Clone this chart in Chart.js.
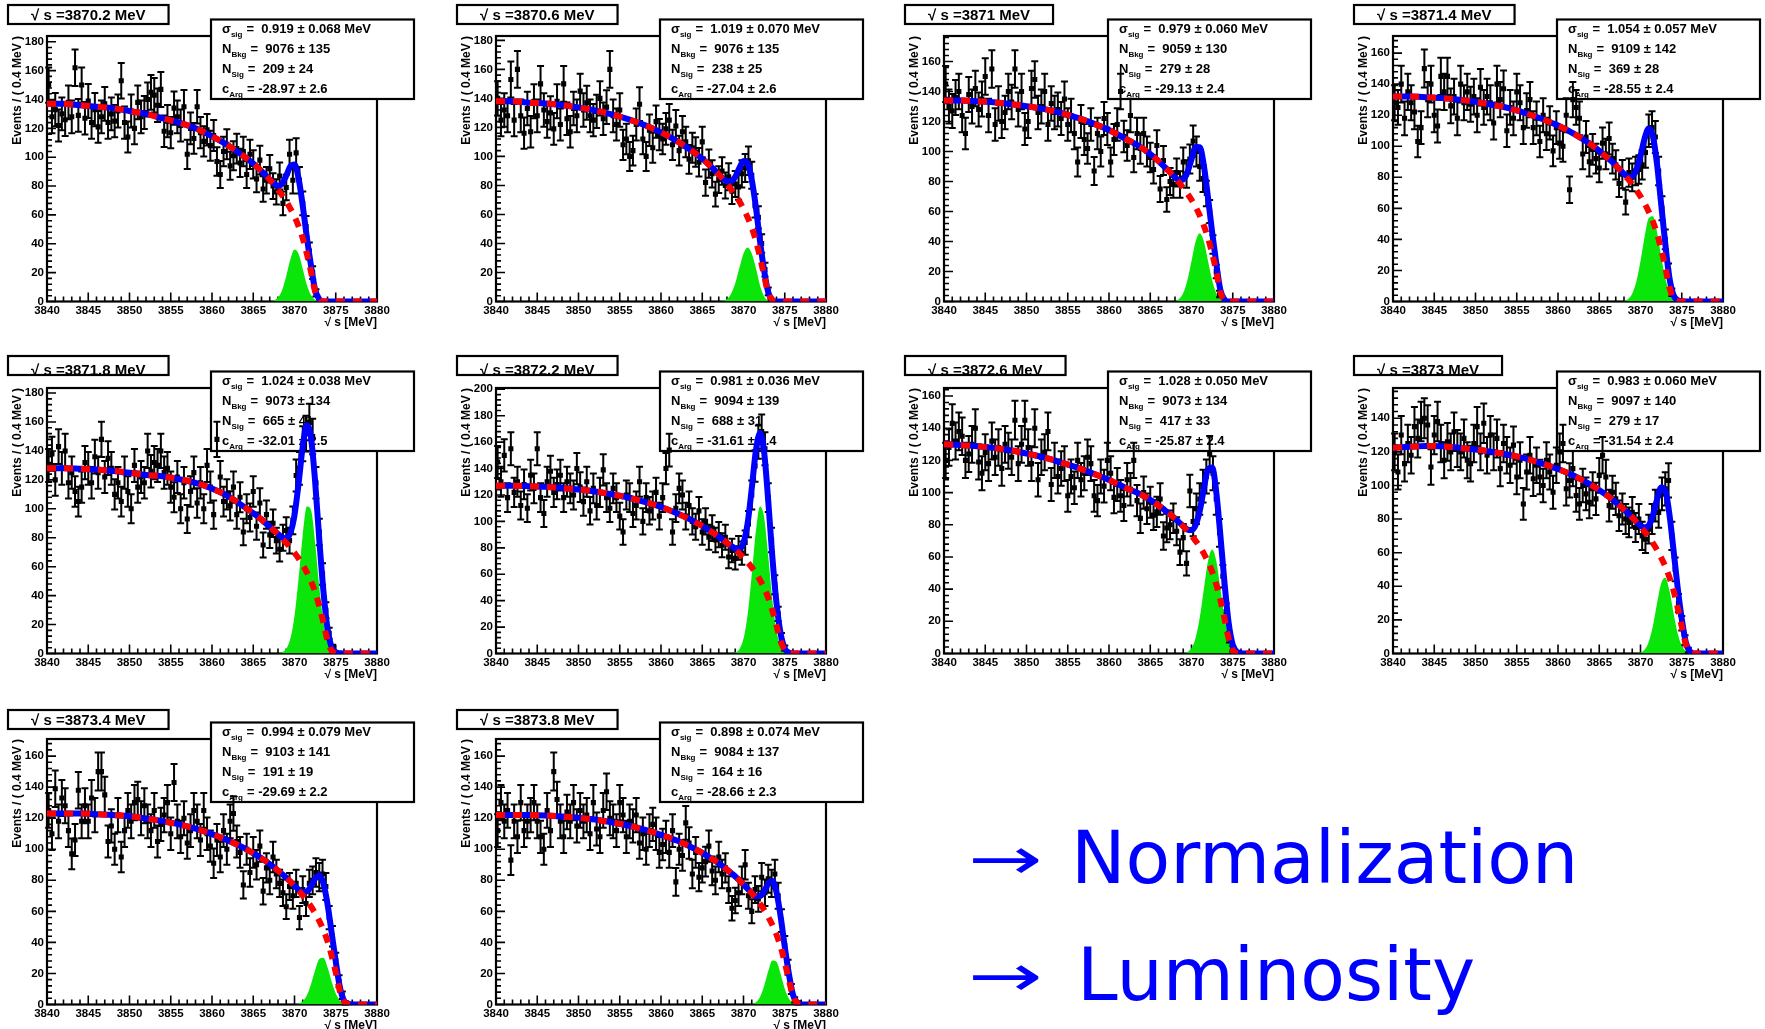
<!DOCTYPE html>
<html><head><meta charset="utf-8">
<script src="https://cdn.jsdelivr.net/npm/chart.js@4.4.1/dist/chart.umd.min.js"></script>
<style>
html,body{margin:0;padding:0;background:#fff;width:1765px;height:1029px;overflow:hidden;position:relative;}
.panel{position:absolute;width:420px;height:352px;}
.note{position:absolute;font-family:"DejaVu Sans";font-size:73px;color:#0000ff;line-height:1;white-space:nowrap;}
.arrow{font-weight:normal;transform:scale(1.22,0.8);transform-origin:0% 60%;}
</style></head><body>
<div class="note arrow" style="left:968px;top:821px;">→</div>
<div class="note" style="left:1071px;top:821px;">Normalization</div>
<div class="note arrow" style="left:968px;top:938px;">→</div>
<div class="note" style="left:1077px;top:938px;">Luminosity</div>
<script>
// ---------- DATA ----------
const energies = ['3870.2','3870.6','3871','3871.4','3871.8','3872.2','3872.6','3873','3873.4','3873.8'];
const sigmaSig = ['0.919 ± 0.068','1.019 ± 0.070','0.979 ± 0.060','1.054 ± 0.057','1.024 ± 0.038','0.981 ± 0.036','1.028 ± 0.050','0.983 ± 0.060','0.994 ± 0.079','0.898 ± 0.074'];
const nBkg = ['9076 ± 135','9076 ± 135','9059 ± 130','9109 ± 142','9073 ± 134','9094 ± 139','9073 ± 134','9097 ± 140','9103 ± 141','9084 ± 137'];
const nSig = ['209 ± 24','238 ± 25','279 ± 28','369 ± 28','665 ± 41','688 ± 31','417 ± 33','279 ± 17','191 ± 19','164 ± 16'];
const cArg = ['-28.97 ± 2.6','-27.04 ± 2.6','-29.13 ± 2.4','-28.55 ± 2.4','-32.01 ± 2.5','-31.61 ± 2.4','-25.87 ± 2.4','-31.54 ± 2.4','-29.69 ± 2.2','-28.66 ± 2.3'];
const yMax = [184,183,177,171,183.5,201,165,158,171,171];
const xTicks = [3840,3845,3850,3855,3860,3865,3870,3875,3880];
const binStart = 3840.2, binWidth = 0.4;

const curveX = [3840,3842,3844,3846,3848,3850,3852,3854,3856,3858,3860,3862,3864,3865,3866,3866.5,3867,3867.5,3868,3868.5,3869,3869.5,3870,3870.5,3871,3871.5,3872,3872.5,3873,3873.5,3874,3874.5,3875,3875.5,3876,3876.5,3877,3878,3880];

const bkg1 = [137,137,136,135,134,132,130,127,124,120,114.5,108,100,95.6,90.4,87.5,84.4,81.1,77.4,73.7,69.5,64.4,58.9,52.1,43.8,32.9,20.6,6.9,1.4,0,0,0,0,0,0,0,0,0,0];
const sig1 = [0,0,0,0,0,0,0,0,0,0,0,0,0,0,0,0,0.1,0.7,2.7,8.0,17.7,29.3,36.1,33.0,22.5,11.4,4.3,1.2,0.2,0,0,0,0,0,0,0,0,0,0];
const bkg2 = [138,138,137,136.5,135.4,133.7,131.7,129,125.7,121.6,116.6,110.4,102.8,98.4,93.3,90.5,87.5,84.3,81,77.3,73.4,69,63.8,58,50.8,42,30.6,17.9,5.8,1.1,0,0,0,0,0,0,0,0,0];
const sig2 = [0,0,0,0,0,0,0,0,0,0,0,0,0,0,0,0,0.1,0.5,1.8,5.4,12.6,23.1,33.1,37.3,33.1,23.1,11,3.5,0.6,0,0,0,0,0,0,0,0,0,0];
const bkg3 = [134,134,133.5,132.8,131.7,130.2,128.4,126,122.7,118.9,114.3,108.5,102.4,98.3,93.6,91,88.3,85.5,82.4,79.2,75.7,72,67.8,63,57.3,50.5,42.3,32.2,20,6,1,0,0,0,0,0,0,0,0];
const sig3 = [0,0,0,0,0,0,0,0,0,0,0,0,0,0,0,0,0,0.1,0.4,1.7,5.6,14.1,27,40,45.5,40,27,14.1,5.6,1.7,0.4,0,0,0,0,0,0,0,0];
const bkg4 = [132,132,131.6,131,130,128.6,126.7,124.5,121.4,117.7,113.3,107.8,101.1,97,92.5,90.3,87.6,84.9,81.8,78.8,75.4,71.7,67.7,63.1,57.8,51.5,43.8,33.8,22.2,9.2,2,0.3,0,0,0,0,0,0,0];
const sig4 = [0,0,0,0,0,0,0,0,0,0,0,0,0,0,0,0,0,0.1,0.4,1.6,5.2,13,26.1,41.9,53.7,54.9,44.8,29.2,15.2,6.3,2.1,0.6,0.1,0,0,0,0,0,0];
const bkg5 = [128,128,127.7,127.1,126.2,124.9,123.4,122.5,120.5,118,114,108.5,101,97,92.5,90,87.7,85.1,82.4,79.4,76.4,73.1,69.5,65.7,61.2,56.1,49.9,42.5,32.8,21.5,9,1.9,0.3,0,0,0,0,0,0];
const sig5 = [0,0,0,0,0,0,0,0,0,0,0,0,0,0,0,0,0,0,0.2,0.8,3.2,10.3,26.1,52.1,82,101.6,99.2,76.4,46.3,22.1,8.3,2.5,0.6,0.1,0,0,0,0,0];
const bkg6 = [127,127,126.7,126.2,125.3,124.2,122.7,120.6,118.1,114.8,110.9,105.9,100,96.5,92.6,90.6,88.4,86.2,83.8,81.3,78.8,75.8,72.5,69,65.2,60.7,55.6,49.5,42,32.5,21,9.5,2.5,0.4,0,0,0,0,0];
const sig6 = [0,0,0,0,0,0,0,0,0,0,0,0,0,0,0,0,0,0,0,0.1,0.8,3.3,11.3,29.6,59.7,92.8,111.3,103,73.5,40.4,17.2,5.6,1.4,0.3,0,0,0,0,0];
const bkg7 = [130,129.5,128.8,127.8,126.3,124.3,122,119,115.8,112,107.8,103,98.5,95.5,92,90.2,88,86,83.9,81.5,79,76.2,73.3,70,66.4,62.1,57,50.9,43,33.2,21.7,9.3,2,0.2,0,0,0,0,0];
const sig7 = [0,0,0,0,0,0,0,0,0,0,0,0,0,0,0,0,0,0,0,0,0.2,0.9,3.4,9.8,22.3,40.3,57.5,64.7,57.5,40.3,22.3,9.8,3.4,0.9,0.2,0,0,0,0];
const bkg8 = [122.5,123,123.5,123.3,122.4,121.4,120,118.3,116.1,113.2,109.8,105.6,100.3,97.2,93.9,92,90,87.9,85.7,83.5,81,78.3,75.5,72.5,69.2,65.7,61.8,57.1,51.9,45.4,37.5,27.4,16.1,5.2,1,0,0,0,0];
const sig8 = [0,0,0,0,0,0,0,0,0,0,0,0,0,0,0,0,0,0,0,0,0,0.1,0.6,2.3,7,16.4,29.8,41.7,45.1,37.6,24.2,12,4.6,1.4,0.3,0,0,0,0];
const bkg9 = [123,123,123,122.6,122,121.2,119.8,118.1,116,113.2,109.7,105.5,100.5,97.4,94.2,92.4,90.4,88.4,86.2,84.1,81.7,79.1,76.3,73.4,70.2,66.8,63.1,58.8,53.9,48,40.8,31.5,20.7,8.6,1.8,0.3,0,0,0];
const sig9 = [0,0,0,0,0,0,0,0,0,0,0,0,0,0,0,0,0,0,0,0,0,0,0.1,0.6,2.1,6,13.1,22.2,29.3,30.1,24,14.8,7.1,2.6,0.8,0.2,0,0,0];
const bkg10 = [122,122,122,121.8,121.1,120.3,119.1,117.4,115.3,112.6,109.3,105.4,100.5,97.6,94.4,92.7,90.9,88.9,86.9,84.7,82.5,80,77.3,74.5,71.6,68.3,64.9,61,56.4,51.2,44.9,37.1,27.1,15.9,5.1,1,0,0,0];
const sig10 = [0,0,0,0,0,0,0,0,0,0,0,0,0,0,0,0,0,0,0,0,0,0,0,0,0.3,1.4,4.9,11.9,21.5,28.4,27.5,19.6,10.2,3.9,1.1,0.2,0,0,0];

const counts1 = [150,128,133,122,130,126,138,128,162,129,150,127,139,124,133,121,128,137,124,130,125,132,153,124,114,132,120,138,128,131,140,145,143,136,147,118,125,117,134,128,122,135,102,120,113,135,117,111,119,108,115,97,88,104,109,94,101,106,96,104,88,102,95,85,98,78,84,92,80,76,87,68,79,102,84,103,84,68,52,35,20,6];
const counts2 = [140,125,132,128,153,125,160,128,116,133,117,138,128,150,132,124,130,119,138,122,150,126,117,133,128,145,132,137,128,125,131,140,126,134,160,128,122,132,108,112,100,104,122,136,112,100,118,106,124,115,112,119,125,108,121,104,117,110,98,106,103,96,110,82,95,88,74,84,90,80,86,76,81,79,88,92,97,87,66,58,40,22,7];
const counts3 = [145,130,127,136,140,124,112,138,130,142,128,135,150,124,155,118,132,120,126,140,133,155,128,140,115,120,142,148,126,130,140,118,132,126,128,122,135,118,124,112,93,120,108,102,118,87,112,100,122,115,93,108,118,140,110,104,124,96,112,102,112,100,96,88,104,75,94,68,80,78,86,78,93,85,95,107,100,90,82,72,60,38,20,5];
const counts4 = [128,125,140,118,135,128,122,103,112,150,130,140,120,113,145,135,145,126,132,118,140,128,135,127,132,120,138,125,132,128,115,140,130,137,110,125,118,135,128,112,123,130,112,118,103,120,108,115,97,112,102,100,120,72,130,125,118,95,106,90,98,92,86,102,95,105,92,88,76,82,64,83,80,84,85,88,96,110,112,106,84,60,40,20,6];
const counts5 = [130,138,120,143,128,140,118,125,112,105,115,132,128,118,136,125,148,122,135,128,110,118,105,125,112,100,130,115,122,118,140,126,132,130,140,125,128,115,108,122,100,118,93,112,125,104,118,100,130,115,96,148,122,105,110,102,115,96,108,84,100,94,112,88,104,75,96,82,90,78,72,80,85,78,92,123,128,145,152,160,150,118,84,55,30,14,4];
const counts6 = [145,130,150,118,155,122,130,112,128,110,135,125,155,118,106,130,138,122,128,135,118,130,125,120,140,126,115,130,108,125,112,122,139,118,110,125,118,104,92,120,118,106,112,130,100,118,108,112,122,104,118,140,154,92,110,125,120,104,112,100,96,108,92,100,88,95,86,90,82,88,73,78,72,80,76,84,98,120,142,160,168,155,118,86,52,30,12,4];
const counts7 = [120,128,143,132,138,135,120,124,130,140,119,112,125,118,132,122,128,115,130,126,122,145,118,130,145,128,118,140,108,122,125,138,105,120,110,115,118,98,110,103,120,108,112,122,118,98,95,110,104,120,112,97,105,98,92,108,102,120,95,84,100,90,94,86,88,96,73,78,80,84,76,63,72,56,101,82,90,96,104,110,124,112,96,75,48,26,10,3];
const counts8 = [120,108,130,113,125,118,135,128,138,140,136,111,130,138,125,115,126,120,132,122,120,128,115,113,125,135,120,137,118,130,120,128,110,125,118,112,124,105,115,89,108,118,104,112,105,100,115,108,96,112,120,125,98,103,110,94,89,100,95,90,98,92,106,118,105,88,96,92,82,86,80,78,84,75,80,70,68,74,80,88,84,95,98,103,70,50,30,18,8,2];
const counts9 = [125,110,139,118,133,128,112,97,106,138,118,128,118,133,122,150,150,135,105,115,100,122,95,112,125,118,130,132,120,128,118,112,125,105,116,122,130,110,143,118,108,120,104,112,125,118,106,125,110,102,91,106,95,112,100,118,123,105,98,77,100,85,98,90,102,73,88,80,95,84,78,72,63,76,70,78,56,74,65,78,80,85,82,84,76,56,44,28,15,6,1];
const counts10 = [112,130,118,125,93,118,108,130,112,118,122,130,118,108,100,125,112,150,132,118,108,124,118,130,115,125,118,122,110,130,113,108,125,137,120,118,112,130,122,108,118,115,122,104,110,100,112,116,110,98,103,108,98,112,79,100,96,117,104,84,98,82,88,92,102,86,80,95,84,88,74,62,67,72,80,90,70,60,74,68,82,72,81,78,84,70,54,38,24,10,3,1];

const countsList = [counts1,counts2,counts3,counts4,counts5,counts6,counts7,counts8,counts9,counts10];
const bkgList = [bkg1,bkg2,bkg3,bkg4,bkg5,bkg6,bkg7,bkg8,bkg9,bkg10];
const sigList = [sig1,sig2,sig3,sig4,sig5,sig6,sig7,sig8,sig9,sig10];

// ---------- LAYOUT ----------
const colX = [0,449,897,1346];
const rowY = [0,352,703];
const titleBoxY = [5,4,7];
const titleTextDy = [0,4,0];
const FONT = '"Liberation Sans", Arial, sans-serif';

const rootPlugin = {
  id: 'rootStyle',
  beforeDatasetsDraw(chart) {
    const ctx = chart.ctx, a = chart.chartArea;
    const o = chart.options.plugins.rootStyle;
    const xs = chart.scales.x, ys = chart.scales.y;
    ctx.save();
    ctx.strokeStyle = '#000';
    ctx.lineWidth = 2.2;
    ctx.strokeRect(a.left, a.top, a.right - a.left, a.bottom - a.top);
    ctx.lineWidth = 1.6;
    ctx.beginPath();
    for (let v = xs.min; v <= xs.max + 1e-6; v += 1) {
      const px = xs.getPixelForValue(v);
      const len = (Math.round(v) % 5 === 0) ? 9 : 5;
      ctx.moveTo(px, a.bottom); ctx.lineTo(px, a.bottom - len);
    }
    for (let v = 0; v <= ys.max + 1e-6; v += 4) {
      const py = ys.getPixelForValue(v);
      const len = (v % 20 === 0) ? 9 : 5;
      ctx.moveTo(a.left, py); ctx.lineTo(a.left + len, py);
    }
    ctx.stroke();
    // stats box
    const bx = 211, by = 19.5, bw = 203, bh = 79.5;
    ctx.fillStyle = '#fff';
    ctx.fillRect(bx, by, bw, bh);
    ctx.lineWidth = 2.2;
    ctx.strokeRect(bx, by, bw, bh);
    ctx.fillStyle = '#000';
    ctx.textBaseline = 'alphabetic';
    ctx.textAlign = 'left';
    const lines = [['σ','sig','=  ' + o.sigma + ' MeV'],['N','Bkg','=  ' + o.nbkg],['N','Sig','=  ' + o.nsig],['c','Arg','= ' + o.carg]];
    lines.forEach((l, i) => {
      const x = 222, y = by + 13 + i * 20;
      ctx.font = 'bold 13px ' + FONT;
      ctx.fillText(l[0], x, y);
      let w = ctx.measureText(l[0]).width;
      ctx.font = 'bold 8px ' + FONT;
      ctx.fillText(l[1], x + w, y + 4);
      w += ctx.measureText(l[1]).width;
      ctx.font = 'bold 13px ' + FONT;
      ctx.fillText(l[2], x + w + 4, y);
    });
    // title box
    ctx.font = 'bold 15px ' + FONT;
    const tw = ctx.measureText(o.title).width;
    const tx = 8, ty = o.tby, tW = tw + 46, tH = 19;
    ctx.fillStyle = '#fff';
    ctx.fillRect(tx, ty, tW, tH);
    ctx.save();
    ctx.beginPath(); ctx.rect(tx, ty, tW, tH); ctx.clip();
    ctx.fillStyle = '#000';
    ctx.textAlign = 'center';
    ctx.textBaseline = 'middle';
    ctx.fillText(o.title, tx + tW / 2, ty + tH / 2 + 1 + o.tdy);
    ctx.restore();
    ctx.strokeStyle = '#000';
    ctx.lineWidth = 2.2;
    ctx.strokeRect(tx, ty, tW, tH);
    ctx.restore();
  },
  beforeDatasetDraw(chart, args) {
    if (args.index !== 2) return;
    const ctx = chart.ctx;
    const xs = chart.scales.x, ys = chart.scales.y;
    const pts = chart.data.datasets[2].data;
    ctx.save();
    ctx.strokeStyle = '#000';
    ctx.lineWidth = 2;
    ctx.beginPath();
    for (const p of pts) {
      const e = Math.sqrt(p.y);
      const px = xs.getPixelForValue(p.x);
      const y1 = ys.getPixelForValue(p.y - e), y2 = ys.getPixelForValue(p.y + e);
      ctx.moveTo(px, y1); ctx.lineTo(px, y2);
      ctx.moveTo(px - 3.5, y1); ctx.lineTo(px + 3.5, y1);
      ctx.moveTo(px - 3.5, y2); ctx.lineTo(px + 3.5, y2);
    }
    ctx.stroke();
    ctx.restore();
  }
};

for (let k = 0; k < 10; k++) {
  const col = k % 4, row = Math.floor(k / 4);
  const div = document.createElement('div');
  div.className = 'panel';
  div.style.left = colX[col] + 'px';
  div.style.top = rowY[row] + 'px';
  const cv = document.createElement('canvas');
  cv.width = 420; cv.height = 352;
  div.appendChild(cv);
  document.body.appendChild(div);

  const bkg = bkgList[k], sig = sigList[k];
  const bkgPts = curveX.map((x, i) => ({x, y: bkg[i]}));
  const sigPts = curveX.map((x, i) => ({x, y: sig[i]}));
  const totPts = curveX.map((x, i) => ({x, y: bkg[i] + sig[i]}));
  const dataPts = countsList[k].map((c, i) => ({x: +(binStart + i * binWidth).toFixed(1), y: c}));

  new Chart(cv, {
    type: 'line',
    data: {
      datasets: [
        {data: bkgPts, borderColor: '#ff0000', borderWidth: 6, borderDash: [9, 8], pointRadius: 0, fill: false, cubicInterpolationMode: 'monotone', borderCapStyle: 'butt'},
        {data: totPts, borderColor: '#0000ff', borderWidth: 6, pointRadius: 0, fill: false, cubicInterpolationMode: 'monotone'},
        {data: dataPts, showLine: false, pointStyle: 'rect', pointRadius: 3.6, pointBackgroundColor: '#000', pointBorderColor: '#000', pointBorderWidth: 0},
        {data: sigPts, borderColor: 'rgba(0,0,0,0)', borderWidth: 0, backgroundColor: 'rgb(10,230,10)', pointRadius: 0, fill: 'origin', cubicInterpolationMode: 'monotone'}
      ]
    },
    options: {
      responsive: false,
      animation: false,
      events: [],
      layout: {padding: {left: 0, top: 36, right: 43, bottom: 22}},
      plugins: {
        legend: {display: false},
        tooltip: {enabled: false},
        rootStyle: {title: '√ s =' + energies[k] + ' MeV', sigma: sigmaSig[k], nbkg: nBkg[k], nsig: nSig[k], carg: cArg[k], tby: titleBoxY[row], tdy: titleTextDy[row]}
      },
      scales: {
        x: {
          type: 'linear', min: 3840, max: 3880,
          afterFit: s => { s.height = 28.5; },
          afterBuildTicks: s => { s.ticks = xTicks.map(v => ({value: v})); },
          grid: {display: false, drawTicks: false},
          border: {display: false},
          ticks: {autoSkip: false, maxRotation: 0, color: '#000', padding: 2, font: {family: FONT, size: 11.5, weight: 'bold'}, callback: v => String(v)},
          title: {display: true, text: '√ s [MeV]', align: 'end', color: '#000', padding: 0, font: {family: FONT, size: 12, weight: 'bold'}}
        },
        y: {
          min: 0, max: yMax[k],
          afterFit: s => { s.width = 47; },
          grid: {display: false, drawTicks: false},
          border: {display: false},
          ticks: {stepSize: 20, includeBounds: false, color: '#000', padding: 3, font: {family: FONT, size: 11.5, weight: 'bold'}, callback: v => String(v)},
          title: {display: true, text: 'Events / ( 0.4 MeV )', align: 'end', color: '#000', padding: {top: 10, bottom: 0}, font: {family: FONT, size: 12, weight: 'bold'}}
        }
      }
    },
    plugins: [rootPlugin]
  });
}
</script>
</body></html>
